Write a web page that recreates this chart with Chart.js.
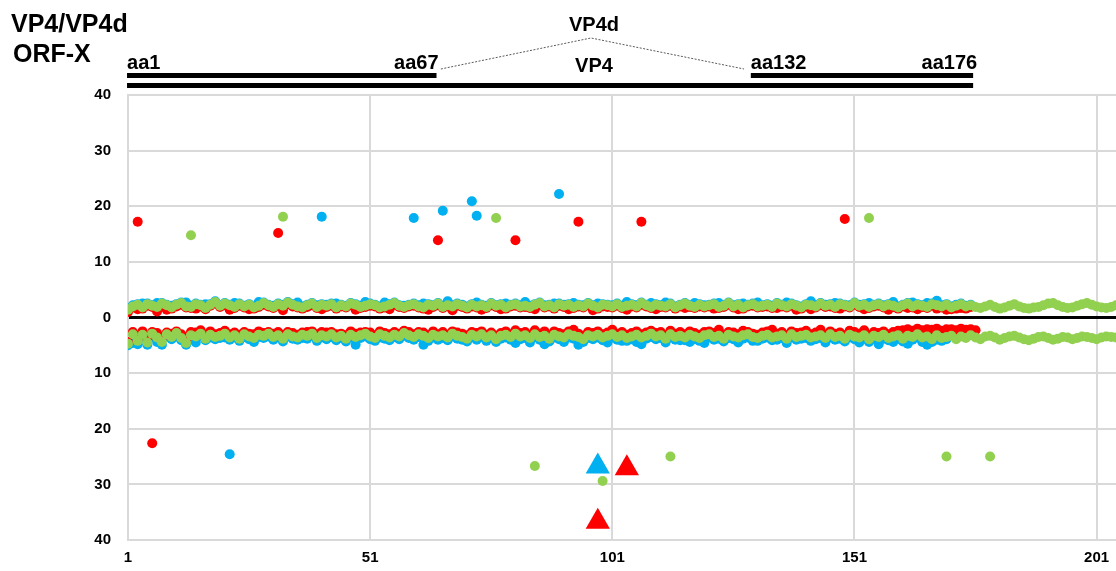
<!DOCTYPE html>
<html>
<head>
<meta charset="utf-8">
<title>VP4/VP4d ORF-X</title>
<script src="https://cdn.jsdelivr.net/npm/chart.js@4/dist/chart.umd.min.js"></script>
<style>
  body { margin: 0; background: #fff; }
  #wrap { width: 1116px; height: 571px; position: relative; }
</style>
</head>
<body>
<div id="wrap"><canvas id="orfChart" width="1116" height="571"></canvas></div>
<script>
// x = amino acid position, y = frame value (upper band +, lower band -)
const xTicks = [1, 51, 101, 151, 201];
const yTicks = [-40, -30, -20, -10, 0, 10, 20, 30, 40];

// blue series, positions 1..175 (upper) and 1..170 (lower)
const blueUp = [
  1.7, 2.2, 2.4, 2.5, 2.5, 2.2, 2.6, 2.6, 2.3, 2.1,
  2.4, 2.7, 2.7, 2.1, 2.5, 2.3, 2.4, 2.4, 2.9, 2.2,
  2.6, 2.3, 2.6, 2.5, 2.1, 2.4, 2.0, 2.8, 2.7, 2.3,
  2.1, 2.5, 2.3, 2.8, 2.4, 2.7, 2.0, 2.3, 2.6, 2.2,
  2.4, 2.3, 2.5, 2.5, 2.3, 2.1, 2.6, 2.4, 2.1, 2.8,
  2.5, 2.3, 2.0, 2.7, 2.4, 2.7, 2.2, 2.1, 2.3, 2.5,
  2.2, 2.5, 2.4, 2.2, 2.6, 2.1, 2.9, 2.2, 2.5, 2.3,
  2.0, 2.4, 2.7, 2.3, 2.1, 2.6, 2.2, 2.4, 2.5, 2.3,
  2.5, 2.2, 2.8, 2.1, 2.4, 2.7, 2.2, 2.3, 2.5, 2.5,
  2.3, 2.4, 2.6, 2.3, 2.2, 2.6, 2.2, 2.5, 2.4, 2.3,
  2.2, 2.5, 2.1, 2.8, 2.4, 2.2, 2.7, 2.3, 2.6, 2.4,
  2.2, 2.7, 2.5, 2.0, 2.3, 2.6, 2.2, 2.6, 2.4, 2.2,
  2.3, 2.5, 2.6, 2.2, 2.7, 2.2, 2.4, 2.5, 2.3, 2.5,
  2.7, 2.2, 2.4, 2.1, 2.6, 2.3, 2.7, 2.5, 2.2, 2.0,
  2.4, 2.9, 2.2, 2.6, 2.3, 2.4, 2.6, 2.5, 2.3, 2.2,
  2.7, 2.3, 2.4, 2.6, 2.3, 2.5, 2.2, 2.4, 2.8, 2.0,
  2.3, 2.6, 2.7, 2.4, 2.2, 2.6, 2.5, 3.0, 2.2, 2.4,
  2.0, 2.3, 2.5, 2.1, 2.3
];
const blueLow = [
  -5.0, -4.6, -4.8, -3.6, -4.9, -3.5, -4.4, -4.9, -3.4, -3.9,
  -3.4, -4.1, -4.9, -3.7, -4.5, -3.3, -4.1, -3.6, -3.9, -3.7,
  -3.6, -4.0, -3.6, -4.2, -3.5, -3.9, -4.4, -3.5, -3.7, -3.4,
  -4.0, -3.6, -4.3, -3.4, -3.8, -4.0, -3.7, -3.8, -3.3, -4.2,
  -3.6, -3.9, -3.5, -4.1, -3.7, -4.3, -3.6, -4.9, -3.7, -3.4,
  -3.9, -4.2, -3.6, -3.8, -4.1, -3.5, -3.9, -3.3, -3.7, -4.0,
  -3.5, -4.9, -4.2, -3.6, -4.0, -3.7, -4.1, -3.4, -3.8, -4.0,
  -4.3, -3.6, -4.0, -3.5, -4.2, -3.7, -4.4, -3.8, -3.6, -4.0,
  -4.6, -3.9, -3.7, -4.5, -3.5, -4.0, -4.8, -4.3, -3.6, -3.9,
  -4.4, -3.6, -3.8, -4.9, -4.4, -3.7, -3.9, -3.6, -4.1, -4.5,
  -3.6, -4.0, -4.2, -4.2, -3.9, -4.4, -4.8, -3.8, -3.5, -3.9,
  -3.7, -4.5, -3.6, -4.0, -4.1, -4.1, -4.4, -3.9, -4.2, -4.6,
  -3.6, -4.0, -3.8, -4.3, -3.7, -3.9, -4.5, -3.8, -3.6, -4.2,
  -4.2, -3.8, -3.6, -4.1, -4.0, -3.7, -4.6, -3.6, -4.0, -3.8,
  -3.7, -4.2, -3.9, -3.7, -4.5, -3.6, -4.0, -3.8, -4.3, -3.6,
  -3.9, -4.5, -3.8, -4.4, -3.8, -4.8, -3.8, -4.1, -4.4, -3.8,
  -4.3, -4.7, -4.0, -3.6, -4.4, -4.9, -4.4, -4.0, -4.2, -3.9
];
const blueOutX = [22, 41, 60, 66, 72, 73, 90];
const blueOutY = [-24.6, 18.1, 17.9, 19.2, 20.9, 18.3, 22.2];
const blueTriX = [98];
const blueTriY = [-26.8];

// red series, positions 1..175 (upper) and 1..176 (lower)
const redUp = [
  1.0, 1.8, 1.5, 1.6, 2.1, 1.9, 1.1, 2.2, 1.4, 1.6,
  2.0, 2.3, 1.8, 1.7, 1.6, 2.0, 1.5, 2.1, 2.5, 1.9,
  2.2, 1.4, 1.7, 2.1, 1.8, 1.5, 1.6, 1.9, 2.3, 2.0,
  1.7, 2.1, 1.3, 2.4, 2.0, 1.8, 1.6, 1.9, 2.2, 1.7,
  1.5, 1.9, 2.1, 1.6, 2.0, 1.8, 2.2, 1.4, 1.7, 1.9,
  2.1, 2.0, 1.6, 1.8, 1.5, 2.3, 1.9, 1.7, 2.0, 2.1,
  1.8, 1.6, 1.4, 1.9, 2.2, 1.7, 2.0, 1.3, 2.1, 1.9,
  1.6, 2.0, 1.8, 1.4, 1.7, 2.2, 1.9, 1.5, 1.6, 2.0,
  2.1, 1.8, 1.9, 1.7, 1.5, 2.3, 1.8, 2.0, 1.6, 2.1,
  1.9, 1.5, 1.7, 2.0, 1.8, 2.2, 1.3, 1.6, 2.0, 1.9,
  1.8, 2.1, 1.7, 1.4, 2.0, 1.8, 2.3, 2.0, 1.7, 1.5,
  1.9, 1.8, 2.1, 1.6, 2.0, 1.7, 1.9, 1.7, 2.0, 1.8,
  2.0, 1.6, 1.7, 1.9, 2.3, 1.8, 1.5, 1.6, 2.0, 2.1,
  1.8, 1.9, 2.0, 1.7, 1.7, 2.0, 1.8, 2.1, 1.4, 1.6,
  2.0, 1.5, 1.8, 2.2, 1.9, 2.0, 1.7, 1.6, 2.0, 1.8,
  2.3, 1.9, 1.5, 1.7, 2.0, 2.1, 1.8, 1.4, 1.9, 1.6,
  2.0, 1.7, 1.8, 1.5, 1.9, 1.7, 2.1, 1.6, 1.8, 1.4,
  1.5, 1.6, 1.7, 1.6, 1.9
];
const redLow = [
  -4.4, -2.6, -3.3, -2.5, -3.9, -2.6, -2.8, -3.6, -2.7, -2.9,
  -2.5, -3.0, -3.9, -2.6, -2.7, -2.3, -3.1, -2.5, -3.0, -2.8,
  -2.4, -3.0, -2.7, -3.1, -2.6, -2.9, -3.0, -2.5, -2.8, -2.6,
  -2.9, -2.6, -3.1, -2.6, -2.8, -3.1, -2.7, -2.6, -2.5, -3.0,
  -2.6, -2.7, -2.6, -3.0, -2.9, -3.2, -2.5, -2.9, -2.7, -2.6,
  -2.7, -3.2, -2.5, -2.8, -3.0, -2.6, -2.9, -2.4, -2.6, -3.0,
  -2.6, -2.7, -3.2, -2.5, -3.0, -2.6, -3.1, -2.5, -2.7, -2.9,
  -3.2, -2.6, -2.8, -2.5, -3.1, -2.7, -3.3, -2.8, -2.5, -3.0,
  -2.3, -2.8, -2.6, -3.1, -2.3, -2.9, -2.5, -3.2, -2.5, -2.8,
  -3.0, -2.5, -2.2, -2.9, -3.3, -2.6, -2.8, -2.5, -3.0, -2.7,
  -2.2, -2.9, -2.6, -3.1, -2.8, -2.5, -3.0, -2.7, -2.4, -2.8,
  -2.6, -3.2, -2.4, -2.9, -2.6, -3.0, -2.5, -2.8, -3.1, -2.6,
  -2.5, -2.8, -2.2, -3.2, -2.6, -2.7, -3.0, -2.4, -2.6, -2.9,
  -3.1, -2.7, -2.5, -2.2, -2.9, -2.6, -3.2, -2.5, -2.8, -2.7,
  -2.4, -3.0, -2.7, -2.2, -3.1, -2.5, -2.9, -2.7, -3.2, -2.4,
  -2.6, -2.9, -2.3, -3.2, -2.6, -2.8, -2.5, -3.0, -2.6, -2.4,
  -2.3, -2.1, -2.4, -2.0, -2.3, -2.1, -2.2, -2.0, -2.4, -2.1,
  -2.1, -2.3, -2.0, -2.2, -2.1, -2.3
];
const redOutX = [3, 6, 32, 65, 81, 94, 107, 149];
const redOutY = [17.2, -22.6, 15.2, 13.9, 13.9, 17.2, 17.2, 17.7];
const redTriX = [104, 98];
const redTriY = [-27.1, -36.7];

// green series, positions 1..205
const greenUp = [
  1.4, 2.0, 2.3, 1.8, 2.4, 2.1, 1.9, 2.5, 2.2, 1.8,
  2.3, 2.6, 2.0, 1.9, 2.4, 2.2, 1.7, 2.3, 2.8, 2.1,
  2.5, 2.2, 1.9, 2.4, 2.0, 2.3, 1.8, 2.1, 2.6, 2.2,
  1.9, 2.4, 2.1, 2.7, 2.3, 2.0, 1.8, 2.2, 2.5, 1.9,
  2.3, 2.1, 2.4, 1.8, 2.2, 2.0, 2.5, 2.3, 1.9, 2.1,
  2.4, 2.2, 1.8, 2.0, 2.3, 2.6, 2.1, 1.9, 2.2, 2.4,
  2.0, 1.8, 2.3, 2.1, 2.5, 1.9, 2.2, 2.0, 2.4, 2.1,
  1.8, 2.3, 2.0, 2.2, 1.9, 2.5, 2.1, 2.3, 1.8, 2.2,
  2.4, 2.0, 2.1, 1.9, 2.3, 2.6, 2.0, 2.2, 1.8, 2.4,
  2.1, 2.3, 1.9, 2.2, 2.0, 2.5, 2.1, 1.8, 2.3, 2.2,
  2.0, 2.4, 1.9, 2.1, 2.3, 2.0, 2.6, 2.2, 1.9, 2.3,
  2.1, 2.0, 2.4, 1.8, 2.2, 2.5, 2.1, 1.9, 2.3, 2.0,
  2.2, 2.4, 1.9, 2.1, 2.6, 2.0, 2.3, 1.8, 2.2, 2.4,
  2.0, 2.1, 2.3, 1.9, 2.5, 2.2, 2.0, 2.4, 2.1, 1.8,
  2.3, 2.2, 2.0, 2.5, 2.1, 2.3, 1.9, 2.4, 2.2, 2.0,
  2.6, 2.1, 2.3, 1.9, 2.2, 2.4, 2.0, 2.3, 2.1, 1.8,
  2.2, 2.5, 2.0, 2.3, 2.1, 1.9, 2.4, 2.2, 2.0, 2.3,
  1.8, 2.1, 2.4, 2.0, 2.2, 1.9, 1.7, 2.0, 2.3, 1.9,
  1.6, 1.8, 2.1, 2.4, 2.0, 1.7, 1.6, 1.8, 1.9, 2.2,
  2.5, 2.6, 2.2, 1.9, 1.7, 1.8, 2.1, 2.4, 2.6, 2.3,
  2.0, 1.8, 1.7, 1.9, 2.2
];
const greenLow = [
  -4.7, -3.0, -4.2, -3.1, -4.5, -2.9, -3.6, -4.4, -3.0, -3.5,
  -2.8, -3.7, -4.6, -3.2, -3.4, -2.9, -3.8, -3.1, -3.5, -3.3,
  -2.9, -3.6, -3.2, -3.8, -3.0, -3.4, -3.7, -3.1, -3.3, -2.9,
  -3.5, -3.2, -3.8, -3.0, -3.4, -3.6, -3.1, -3.3, -2.9, -3.7,
  -3.2, -3.4, -3.0, -3.6, -3.3, -3.8, -3.1, -3.5, -3.2, -2.9,
  -3.4, -3.7, -3.0, -3.3, -3.6, -3.1, -3.4, -2.8, -3.2, -3.5,
  -3.0, -3.3, -3.7, -3.1, -3.4, -3.2, -3.6, -2.9, -3.3, -3.5,
  -3.8, -3.1, -3.4, -3.0, -3.6, -3.2, -3.9, -3.3, -3.1, -3.5,
  -2.9, -3.4, -3.2, -3.7, -3.0, -3.5, -3.3, -3.8, -3.1, -3.4,
  -3.6, -3.0, -3.3, -3.5, -3.9, -3.2, -3.4, -3.1, -3.6, -3.3,
  -3.0, -3.5, -3.2, -3.7, -3.4, -3.1, -3.6, -3.3, -2.9, -3.4,
  -3.2, -3.8, -3.0, -3.5, -3.3, -3.6, -3.1, -3.4, -3.7, -3.2,
  -3.0, -3.5, -3.3, -3.8, -3.1, -3.4, -3.6, -3.2, -3.0, -3.5,
  -3.7, -3.3, -3.1, -3.6, -3.4, -3.2, -3.8, -3.0, -3.5, -3.3,
  -3.1, -3.6, -3.4, -3.2, -3.7, -3.0, -3.5, -3.3, -3.8, -3.1,
  -3.4, -3.6, -3.2, -3.9, -3.3, -3.5, -3.1, -3.7, -3.4, -3.2,
  -3.8, -3.3, -3.5, -3.0, -3.6, -3.4, -3.9, -3.2, -3.7, -3.5,
  -3.3, -3.9, -3.4, -3.7, -3.2, -3.6, -3.9, -3.4, -3.3, -3.6,
  -4.0, -3.7, -3.4, -3.3, -3.6, -3.9, -4.1, -3.8, -3.5, -3.4,
  -3.7, -4.0, -3.8, -3.5, -3.6, -3.9, -3.7, -3.4, -3.5, -3.7,
  -3.9, -3.6, -3.4, -3.5, -3.6
];
const greenOutX = [14, 33, 77, 85, 99, 113, 154, 170, 179];
const greenOutY = [14.8, 18.1, 17.9, -26.7, -29.4, -25.0, 17.9, -25.0, -25.0];

// schematic above the plot, in amino acid units
const vp4Span = [0.8, 175.5];
const vp4dSpans = [[0.8, 64.7], [129.6, 175.5]];
const spliceLine = [65.6, 96.6, 128.2];

function band(values) {
  return values.map((v, i) => ({ x: i + 1, y: v }));
}
function pairs(xs, ys) {
  return xs.map((x, i) => ({ x: x, y: ys[i] }));
}

const FONT = '"Liberation Sans", Arial, sans-serif';

const orfSchematic = {
  id: 'orfSchematic',
  afterDraw(chart) {
    const ctx = chart.ctx;
    const x = chart.scales.x;
    ctx.save();
    ctx.fillStyle = '#000';
    ctx.font = 'bold 25px ' + FONT;
    ctx.textAlign = 'left';
    ctx.textBaseline = 'alphabetic';
    ctx.fillText('VP4/VP4d', 11, 32);
    ctx.fillText('ORF-X', 13, 62);

    // bars
    ctx.fillRect(x.getPixelForValue(vp4Span[0]), 83, x.getPixelForValue(vp4Span[1]) - x.getPixelForValue(vp4Span[0]), 5);
    vp4dSpans.forEach(s => {
      ctx.fillRect(x.getPixelForValue(s[0]), 73, x.getPixelForValue(s[1]) - x.getPixelForValue(s[0]), 5);
    });

    // splice connector
    ctx.strokeStyle = '#595959';
    ctx.lineWidth = 1;
    ctx.setLineDash([2, 1.5]);
    ctx.beginPath();
    ctx.moveTo(x.getPixelForValue(spliceLine[0]), 69);
    ctx.lineTo(x.getPixelForValue(spliceLine[1]), 38);
    ctx.lineTo(x.getPixelForValue(spliceLine[2]), 69);
    ctx.stroke();
    ctx.setLineDash([]);

    ctx.font = 'bold 20px ' + FONT;
    ctx.textAlign = 'left';
    ctx.fillText('aa1', x.getPixelForValue(vp4dSpans[0][0]), 69);
    ctx.fillText('aa132', x.getPixelForValue(vp4dSpans[1][0]), 69);
    ctx.textAlign = 'right';
    ctx.fillText('aa67', x.getPixelForValue(vp4dSpans[0][1]) + 2, 69);
    ctx.fillText('aa176', x.getPixelForValue(vp4dSpans[1][1]) + 4, 69);
    ctx.textAlign = 'center';
    ctx.fillText('VP4d', x.getPixelForValue(spliceLine[1]) + 3, 31);
    ctx.fillText('VP4', x.getPixelForValue(spliceLine[1]) + 3, 72);
    ctx.restore();
  }
};

const dot = { type: 'scatter', pointRadius: 5, pointHoverRadius: 5, borderWidth: 0 };

new Chart(document.getElementById('orfChart'), {
  type: 'scatter',
  data: {
    datasets: [
      { ...dot, label: 'blue triangle', data: pairs(blueTriX, blueTriY), pointStyle: 'triangle', pointRadius: 14,
        backgroundColor: '#00b0f0', borderColor: '#00b0f0', order: 0 },
      { ...dot, label: 'red triangle', data: pairs(redTriX, redTriY), pointStyle: 'triangle', pointRadius: 14,
        backgroundColor: '#ff0000', borderColor: '#ff0000', order: 0 },
      { ...dot, label: 'green', data: band(greenUp).concat(band(greenLow), pairs(greenOutX, greenOutY)),
        backgroundColor: '#92d050', borderColor: '#92d050', order: 1 },
      { ...dot, label: 'red', data: band(redUp).concat(band(redLow), pairs(redOutX, redOutY)),
        backgroundColor: '#ff0000', borderColor: '#ff0000', order: 2 },
      { ...dot, label: 'blue', data: band(blueUp).concat(band(blueLow), pairs(blueOutX, blueOutY)),
        backgroundColor: '#00b0f0', borderColor: '#00b0f0', order: 3 }
    ]
  },
  options: {
    responsive: false,
    animation: false,
    layout: { autoPadding: false, padding: { top: 95, left: 0, right: 0, bottom: 0 } },
    plugins: { legend: { display: false }, tooltip: { enabled: false } },
    scales: {
      x: {
        type: 'linear',
        min: 1,
        max: 205,
        afterBuildTicks: s => { s.ticks = xTicks.map(v => ({ value: v })); },
        afterFit: s => { s.height = 31; s.paddingLeft = 0; s.paddingRight = 0; },
        grid: { color: '#d9d9d9', lineWidth: 2, drawTicks: false },
        border: { color: '#d9d9d9', width: 2 },
        ticks: { padding: 9, color: '#000', font: { family: FONT, size: 15, weight: 'bold' } }
      },
      y: {
        type: 'linear',
        min: -40,
        max: 40,
        afterBuildTicks: s => { s.ticks = yTicks.map(v => ({ value: v })); },
        afterFit: s => { s.width = 128; },
        grid: {
          drawTicks: false,
          color: c => (c.tick && c.tick.value === 0 ? '#000' : '#d9d9d9'),
          lineWidth: c => (c.tick && c.tick.value === 0 ? 3 : 2)
        },
        border: { color: '#d9d9d9', width: 2 },
        ticks: {
          padding: 17,
          color: '#000',
          font: { family: FONT, size: 15, weight: 'bold' },
          callback: v => Math.abs(v)
        }
      }
    }
  },
  plugins: [orfSchematic]
});
</script>
</body>
</html>
